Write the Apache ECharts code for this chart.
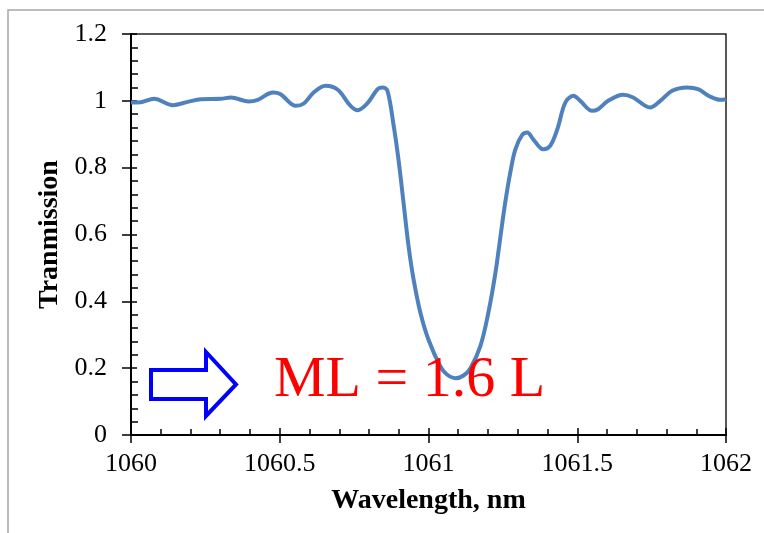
<!DOCTYPE html>
<html>
<head>
<meta charset="utf-8">
<script src="https://cdn.jsdelivr.net/npm/echarts@6/dist/echarts.min.js"></script>
<style>
  html, body { margin: 0; padding: 0; background: #fff; }
  #main { width: 764px; height: 533px; }
</style>
</head>
<body>
<div id="main"></div>
<script>
// spectrum
let wavelength = [
  1060.000, 1060.034, 1060.077, 1060.141, 1060.191, 1060.235, 1060.302, 1060.336,
  1060.396, 1060.426, 1060.477, 1060.503, 1060.554, 1060.581, 1060.614, 1060.654,
  1060.695, 1060.738, 1060.762, 1060.795, 1060.829, 1060.846, 1060.862, 1060.883,
  1060.899, 1060.916, 1060.933, 1060.950, 1060.973, 1061.000, 1061.040, 1061.062,
  1061.091, 1061.118,
  1061.141, 1061.174, 1061.201, 1061.225, 1061.242, 1061.258, 1061.275, 1061.292,
  1061.315, 1061.332, 1061.352, 1061.386, 1061.409, 1061.433, 1061.460, 1061.487,
  1061.510, 1061.550, 1061.570, 1061.604, 1061.654, 1061.688, 1061.745, 1061.779,
  1061.819, 1061.869, 1061.906, 1061.946, 1061.980, 1062.000
];
let transmission = [
  0.995, 0.996, 1.006, 0.987, 0.997, 1.005, 1.006, 1.010,
  0.998, 1.003, 1.025, 1.020, 0.985, 0.992, 1.025, 1.045,
  1.033, 0.985, 0.972, 0.993, 1.035, 1.040, 1.030, 0.925,
  0.825, 0.696, 0.565, 0.465, 0.365, 0.285, 0.205, 0.181,
  0.170, 0.178,
  0.200, 0.265, 0.365, 0.485, 0.595, 0.696, 0.786, 0.855,
  0.898, 0.905, 0.885, 0.855, 0.865, 0.915, 0.995, 1.015,
  1.000, 0.970, 0.975, 1.000, 1.018, 1.010, 0.980, 1.000,
  1.030, 1.040, 1.035, 1.013, 1.003, 1.005
];

let xTicks = [1060, 1062, 0.5];   // min, max, step
let yTicks = [0, 1.2, 0.2];

let serif = '"Liberation Serif", "DejaVu Serif", serif';

let points = wavelength.map(function (w, i) {
  return [w, transmission[i]];
});

let chart = echarts.init(document.getElementById('main'));

let option = {
  animation: false,
  grid: {
    left: 131,
    right: 38,
    top: 34,
    bottom: 98,
    show: true,
    borderColor: '#222',
    borderWidth: 1.5
  },
  xAxis: [
    {
      type: 'value',
      min: xTicks[0],
      max: xTicks[1],
      interval: xTicks[2],
      name: 'Wavelength, nm',
      nameLocation: 'middle',
      nameGap: 52,
      nameTextStyle: { fontFamily: serif, fontSize: 28, fontWeight: 'bold', color: '#000' },
      axisLine: { onZero: false, lineStyle: { color: '#000', width: 2 } },
      axisTick: { show: true, length: 8, lineStyle: { color: '#000', width: 1.5 } },
      axisLabel: {
        fontFamily: serif, fontSize: 26, color: '#000', margin: 16,
        formatter: function (v) { return String(v); }
      },
      splitLine: { show: false }
    },
    {
      // inner ticks
      type: 'value',
      position: 'bottom',
      min: xTicks[0],
      max: xTicks[1],
      interval: xTicks[2],
      axisLine: { show: false, onZero: false },
      axisTick: { show: true, inside: true, length: 7, lineStyle: { color: '#000', width: 1.5 } },
      minorTick: { show: true, splitNumber: 5, length: 6, lineStyle: { color: '#000', width: 1.5 } },
      axisLabel: { show: false },
      splitLine: { show: false }
    }
  ],
  yAxis: [
    {
      type: 'value',
      min: yTicks[0],
      max: yTicks[1],
      interval: yTicks[2],
      name: 'Tranmission',
      nameLocation: 'middle',
      nameGap: 62,
      nameTextStyle: { fontFamily: serif, fontSize: 28, fontWeight: 'bold', color: '#000' },
      axisLine: { show: true, onZero: false, lineStyle: { color: '#000', width: 2 } },
      axisTick: { show: true, length: 9, lineStyle: { color: '#000', width: 1.5 } },
      axisLabel: {
        fontFamily: serif, fontSize: 26, color: '#000', margin: 24,
        formatter: function (v) { return String(v); }
      },
      splitLine: { show: false }
    },
    {
      type: 'value',
      position: 'left',
      min: yTicks[0],
      max: yTicks[1],
      interval: yTicks[2],
      axisLine: { show: false, onZero: false },
      axisTick: { show: true, inside: true, length: 6, lineStyle: { color: '#000', width: 1.5 } },
      minorTick: { show: true, splitNumber: 5, length: 7, lineStyle: { color: '#000', width: 1.5 } },
      axisLabel: { show: false },
      splitLine: { show: false }
    }
  ],
  series: [
    {
      name: 'transmission',
      type: 'line',
      xAxisIndex: 0,
      yAxisIndex: 0,
      data: points,
      smooth: 0.35,
      showSymbol: false,
      lineStyle: { color: '#4F81BD', width: 4 }
    }
  ],
  graphic: [
    {
      // outer frame of the figure
      type: 'rect',
      shape: { x: 8, y: 10, width: 900, height: 700 },
      style: { fill: 'none', stroke: '#a6a6a6', lineWidth: 1.5 },
      silent: true
    },
    {
      type: 'polygon',
      shape: {
        points: [[151, 370], [206, 370], [206, 352], [236, 384.5], [206, 416], [206, 399], [151, 399]]
      },
      style: { fill: '#fff', stroke: '#0000ff', lineWidth: 4 },
      z: 10
    },
    {
      type: 'text',
      x: 274,
      y: 381,
      style: {
        text: 'ML = 1.6 L',
        font: '58px ' + serif,
        fill: '#ff0000',
        verticalAlign: 'middle'
      },
      z: 10
    }
  ]
};

chart.setOption(option);
</script>
</body>
</html>
